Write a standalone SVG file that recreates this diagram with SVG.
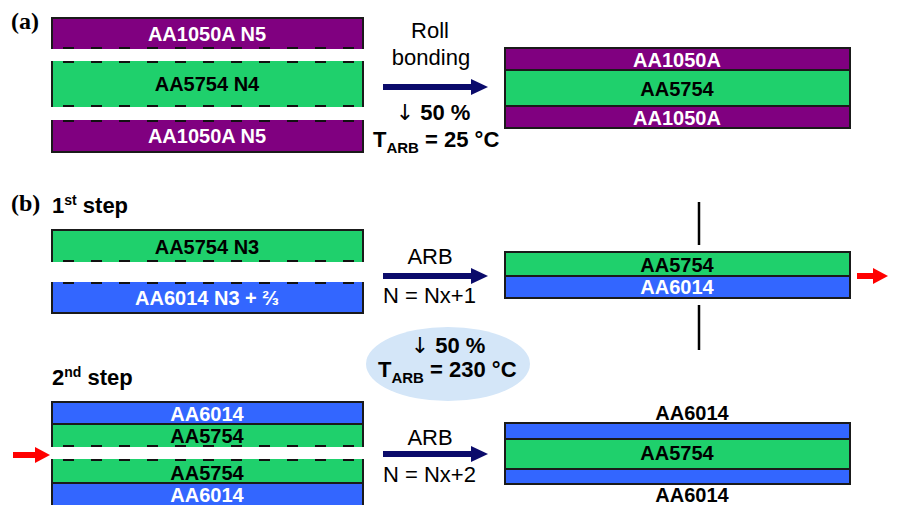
<svg xmlns="http://www.w3.org/2000/svg" width="923" height="505" viewBox="0 0 923 505">
  <style>
    .purple { fill: #800080; }
    .green { fill: #1fd06c; }
    .blue { fill: #3366ff; }
    .edge { fill: none; stroke: #1a1a1a; stroke-width: 2; }
    .dash { fill: none; stroke: #111; stroke-width: 2; stroke-dasharray: 11 17; }
    .lbl { font-family: "Liberation Sans", Arial, sans-serif; font-weight: bold; font-size: 20px; text-anchor: middle; }
    .w { fill: #ffffff; }
    .k { fill: #000000; }
    .proc { font-family: "Liberation Sans", Arial, sans-serif; font-size: 22px; fill: #000; }
    .bold { font-weight: bold; }
    .mid { text-anchor: middle; }
    .down { font-family: "DejaVu Sans", sans-serif; font-weight: normal; }
    .panel { font-family: "Liberation Serif", "Times New Roman", serif; font-weight: bold; font-size: 24px; fill: #000; }
    .navy { stroke: #0b0b6b; stroke-width: 6; fill: none; }
    .red { stroke: #ff0000; stroke-width: 6; fill: none; }
    .cut { stroke: #000; stroke-width: 2.5; }
  </style>
  <defs>
    <marker id="headNavy" markerUnits="userSpaceOnUse" markerWidth="18" markerHeight="20" refX="2" refY="10" orient="auto">
      <path d="M0,2 L17,10 L0,18 Z" fill="#0b0b6b"/>
    </marker>
    <marker id="headRed" markerUnits="userSpaceOnUse" markerWidth="16" markerHeight="18" refX="2" refY="9" orient="auto">
      <path d="M0,1 L15,9 L0,17 Z" fill="#ff0000"/>
    </marker>
  </defs>

  <rect width="923" height="505" fill="#ffffff"/>

  <!-- panel letters -->
  <text class="panel" x="11" y="29">(a)</text>
  <text class="panel" x="11" y="211">(b)</text>

  <!-- (a) starting sheets -->
  <g id="a-top-1050">
    <rect class="purple" x="52" y="18" width="311" height="31"/>
    <path class="edge" d="M52,49 V18 H363 V49"/>
    <line class="dash" x1="63" y1="48" x2="362" y2="48"/>
    <text class="lbl w" x="207" y="41">AA1050A N5</text>
  </g>
  <g id="a-mid-5754">
    <rect class="green" x="52" y="61" width="311" height="46"/>
    <path class="edge" d="M52,61 V107 M363,61 V107"/>
    <line class="dash" x1="63" y1="62" x2="362" y2="62"/>
    <line class="dash" x1="63" y1="106" x2="362" y2="106"/>
    <text class="lbl k" x="207" y="91">AA5754 N4</text>
  </g>
  <g id="a-bot-1050">
    <rect class="purple" x="52" y="120" width="311" height="32"/>
    <path class="edge" d="M52,120 V152 H363 V120"/>
    <line class="dash" x1="63" y1="121" x2="362" y2="121"/>
    <text class="lbl w" x="207" y="143">AA1050A N5</text>
  </g>

  <!-- (a) roll bonding conditions -->
  <g id="a-process">
    <text class="proc mid" x="430" y="38">Roll</text>
    <text class="proc mid" x="431" y="65">bonding</text>
    <text class="proc bold mid" x="433" y="120"><tspan class="down">↓</tspan> 50 %</text>
    <text class="proc bold" x="373" y="147">T<tspan font-size="15" dy="6">ARB</tspan><tspan dy="-6"> = 25 °C</tspan></text>
  </g>

  <!-- (a) bonded laminate -->
  <g id="a-laminate">
    <rect class="purple" x="505" y="48" width="345" height="22"/>
    <rect class="green" x="505" y="70" width="345" height="36"/>
    <rect class="purple" x="505" y="106" width="345" height="22"/>
    <rect class="edge" x="505" y="48" width="345" height="80"/>
    <line class="edge" x1="505" y1="70" x2="850" y2="70"/>
    <line class="edge" x1="505" y1="106" x2="850" y2="106"/>
    <text class="lbl w" x="677" y="67">AA1050A</text>
    <text class="lbl k" x="677" y="96">AA5754</text>
    <text class="lbl w" x="677" y="125">AA1050A</text>
  </g>

  <!-- (b) 1st step -->
  <text class="proc bold" x="52" y="213">1<tspan font-size="14" dy="-8">st</tspan><tspan dy="8"> step</tspan></text>
  <g id="b1-5754">
    <rect class="green" x="52" y="230" width="311" height="32"/>
    <path class="edge" d="M52,262 V230 H363 V262"/>
    <line class="dash" x1="63" y1="261" x2="362" y2="261"/>
    <text class="lbl k" x="207" y="254">AA5754 N3</text>
  </g>
  <g id="b1-6014">
    <rect class="blue" x="52" y="282" width="311" height="31"/>
    <path class="edge" d="M52,282 V313 H363 V282"/>
    <line class="dash" x1="63" y1="283" x2="362" y2="283"/>
    <text class="lbl w" x="207" y="305">AA6014 N3 + ⅔</text>
  </g>
  <g id="b1-process">
    <text class="proc mid" x="430" y="264">ARB</text>
    <text class="proc" x="383" y="303">N = Nx+1</text>
  </g>
  <g id="b1-laminate">
    <rect class="green" x="505" y="252" width="345" height="24"/>
    <rect class="blue" x="505" y="276" width="345" height="22"/>
    <rect class="edge" x="505" y="252" width="345" height="46"/>
    <line class="edge" x1="505" y1="276" x2="850" y2="276"/>
    <text class="lbl k" x="677" y="272">AA5754</text>
    <text class="lbl w" x="677" y="294">AA6014</text>
  </g>
  <g id="b1-cut">
    <line class="cut" x1="699" y1="202" x2="699" y2="245"/>
    <line class="cut" x1="699" y1="305" x2="699" y2="350"/>
  </g>

  <!-- shared ARB conditions -->
  <g id="b-conditions">
    <ellipse cx="448" cy="364" rx="82" ry="37" fill="#d4e6f8"/>
    <text class="proc bold mid" x="448" y="353"><tspan class="down">↓</tspan> 50 %</text>
    <text class="proc bold" x="378" y="377">T<tspan font-size="15" dy="6">ARB</tspan><tspan dy="-6"> = 230 °C</tspan></text>
  </g>

  <!-- (b) 2nd step -->
  <text class="proc bold" x="52" y="385">2<tspan font-size="14" dy="-8">nd</tspan><tspan dy="8"> step</tspan></text>
  <g id="b2-upper">
    <rect class="blue" x="52" y="402" width="311" height="22"/>
    <rect class="green" x="52" y="424" width="311" height="23"/>
    <path class="edge" d="M52,447 V402 H363 V447 M52,424 H363"/>
    <line class="dash" x1="63" y1="446" x2="362" y2="446"/>
    <text class="lbl w" x="207" y="421">AA6014</text>
    <text class="lbl k" x="207" y="443">AA5754</text>
  </g>
  <g id="b2-lower">
    <rect class="green" x="52" y="459" width="311" height="24"/>
    <rect class="blue" x="52" y="483" width="311" height="24"/>
    <path class="edge" d="M52,459 V507 M363,459 V507 M52,483 H363"/>
    <line class="dash" x1="63" y1="460" x2="362" y2="460"/>
    <text class="lbl k" x="207" y="480">AA5754</text>
    <text class="lbl w" x="207" y="502">AA6014</text>
  </g>
  <g id="b2-process">
    <text class="proc mid" x="430" y="445">ARB</text>
    <text class="proc" x="383" y="482">N = Nx+2</text>
  </g>
  <g id="b2-laminate">
    <rect class="blue" x="505" y="423" width="345" height="16"/>
    <rect class="green" x="505" y="439" width="345" height="30"/>
    <rect class="blue" x="505" y="469" width="345" height="15"/>
    <rect class="edge" x="505" y="423" width="345" height="61"/>
    <line class="edge" x1="505" y1="439" x2="850" y2="439"/>
    <line class="edge" x1="505" y1="469" x2="850" y2="469"/>
    <text class="lbl k" x="677" y="460">AA5754</text>
    <text class="lbl k" x="692" y="420">AA6014</text>
    <text class="lbl k" x="692" y="502">AA6014</text>
  </g>

  <!-- process and feed arrows -->
  <g id="connectors">
    <line class="navy" x1="383" y1="87" x2="473" y2="87" marker-end="url(#headNavy)"/>
    <line class="navy" x1="383" y1="276" x2="473" y2="276" marker-end="url(#headNavy)"/>
    <line class="navy" x1="383" y1="454" x2="473" y2="454" marker-end="url(#headNavy)"/>
    <line class="red" x1="857" y1="276" x2="875" y2="276" marker-end="url(#headRed)"/>
    <line class="red" x1="13" y1="455" x2="37" y2="455" marker-end="url(#headRed)"/>
  </g>
</svg>
